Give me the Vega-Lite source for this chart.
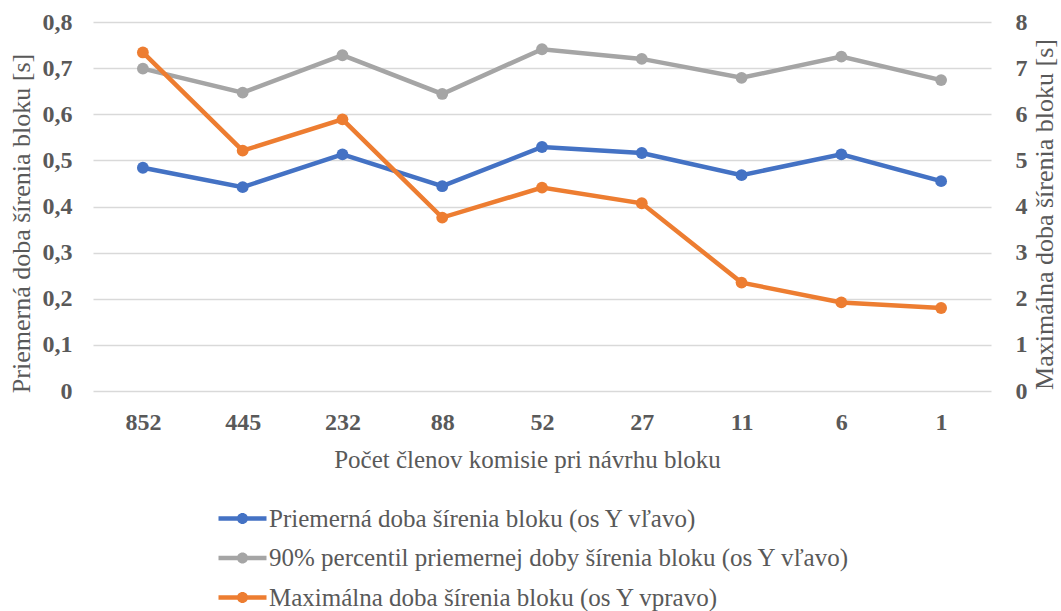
{
  "$schema": "https://vega.github.io/schema/vega-lite/v6.json",
  "width": 898,
  "height": 369,
  "autosize": {"type": "none"},
  "padding": {"left": 93, "top": 22, "right": 70, "bottom": 220},
  "background": "white",
  "config": {"view": {"stroke": null}, "font": "Liberation Serif"},
  "data": {
    "values": [
      {"k": "852", "s": "Priemerná doba šírenia bloku (os Y vľavo)", "v": 0.484},
      {"k": "445", "s": "Priemerná doba šírenia bloku (os Y vľavo)", "v": 0.442},
      {"k": "232", "s": "Priemerná doba šírenia bloku (os Y vľavo)", "v": 0.513},
      {"k": "88", "s": "Priemerná doba šírenia bloku (os Y vľavo)", "v": 0.444},
      {"k": "52", "s": "Priemerná doba šírenia bloku (os Y vľavo)", "v": 0.529},
      {"k": "27", "s": "Priemerná doba šírenia bloku (os Y vľavo)", "v": 0.516},
      {"k": "11", "s": "Priemerná doba šírenia bloku (os Y vľavo)", "v": 0.468},
      {"k": "6", "s": "Priemerná doba šírenia bloku (os Y vľavo)", "v": 0.513},
      {"k": "1", "s": "Priemerná doba šírenia bloku (os Y vľavo)", "v": 0.455},
      {"k": "852", "s": "90% percentil priemernej doby šírenia bloku (os Y vľavo)", "v": 0.699},
      {"k": "445", "s": "90% percentil priemernej doby šírenia bloku (os Y vľavo)", "v": 0.647},
      {"k": "232", "s": "90% percentil priemernej doby šírenia bloku (os Y vľavo)", "v": 0.728},
      {"k": "88", "s": "90% percentil priemernej doby šírenia bloku (os Y vľavo)", "v": 0.644},
      {"k": "52", "s": "90% percentil priemernej doby šírenia bloku (os Y vľavo)", "v": 0.741},
      {"k": "27", "s": "90% percentil priemernej doby šírenia bloku (os Y vľavo)", "v": 0.72},
      {"k": "11", "s": "90% percentil priemernej doby šírenia bloku (os Y vľavo)", "v": 0.679},
      {"k": "6", "s": "90% percentil priemernej doby šírenia bloku (os Y vľavo)", "v": 0.725},
      {"k": "1", "s": "90% percentil priemernej doby šírenia bloku (os Y vľavo)", "v": 0.674},
      {"k": "852", "s": "Maximálna doba šírenia bloku (os Y vpravo)", "v": 7.34},
      {"k": "445", "s": "Maximálna doba šírenia bloku (os Y vpravo)", "v": 5.21},
      {"k": "232", "s": "Maximálna doba šírenia bloku (os Y vpravo)", "v": 5.89},
      {"k": "88", "s": "Maximálna doba šírenia bloku (os Y vpravo)", "v": 3.76},
      {"k": "52", "s": "Maximálna doba šírenia bloku (os Y vpravo)", "v": 4.41},
      {"k": "27", "s": "Maximálna doba šírenia bloku (os Y vpravo)", "v": 4.07},
      {"k": "11", "s": "Maximálna doba šírenia bloku (os Y vpravo)", "v": 2.35},
      {"k": "6", "s": "Maximálna doba šírenia bloku (os Y vpravo)", "v": 1.92},
      {"k": "1", "s": "Maximálna doba šírenia bloku (os Y vpravo)", "v": 1.8}
    ]
  },
  "encoding": {
    "x": {
      "field": "k",
      "type": "nominal",
      "sort": ["852", "445", "232", "88", "52", "27", "11", "6", "1"],
      "scale": {"type": "point", "padding": 0.5},
      "axis": {
        "title": "Počet členov komisie pri návrhu bloku",
        "labelAngle": 0,
        "domain": false,
        "ticks": false,
        "grid": false,
        "labelFont": "Liberation Serif",
        "labelFontWeight": "bold",
        "labelFontSize": 24,
        "labelColor": "#595959",
        "labelPadding": 19,
        "titleFont": "Liberation Serif",
        "titleFontWeight": "normal",
        "titleFontSize": 25,
        "titleColor": "#595959",
        "titlePadding": 13,
        "titleX": 434
      }
    },
    "color": {
      "field": "s",
      "type": "nominal",
      "scale": {
        "domain": ["Priemerná doba šírenia bloku (os Y vľavo)", "90% percentil priemernej doby šírenia bloku (os Y vľavo)", "Maximálna doba šírenia bloku (os Y vpravo)"],
        "range": ["#4472C4", "#A5A5A5", "#ED7D31"]
      },
      "legend": {
        "orient": "none",
        "legendX": 125,
        "legendY": 484,
        "direction": "vertical",
        "title": null,
        "symbolType": "M-1,-0.19 H3 V0.19 H-1 Z M1.46,0 A0.46,0.46 0 1 1 0.54,0 A0.46,0.46 0 1 1 1.46,0 Z",
        "symbolSize": 576,
        "symbolStrokeWidth": 0,
        "labelFont": "Liberation Serif",
        "labelFontSize": 25,
        "labelColor": "#595959",
        "labelOffset": 26,
        "labelLimit": 0,
        "rowPadding": 13.5,
        "encode": {
          "symbols": {
            "update": {
              "fill": {"scale": "color", "field": "value"},
              "stroke": {"value": "transparent"},
              "opacity": {"value": 1}
            }
          }
        }
      }
    }
  },
  "layer": [
    {
      "transform": [{"filter": "datum.s != 'Maximálna doba šírenia bloku (os Y vpravo)'"}],
      "encoding": {
        "y": {
          "field": "v",
          "type": "quantitative",
          "scale": {"domain": [0, 0.8], "nice": false, "zero": true},
          "axis": {
            "orient": "left",
            "values": [0, 0.1, 0.2, 0.3, 0.4, 0.5, 0.6, 0.7, 0.8],
            "labelExpr": "datum.value == 0 ? '0' : replace(format(datum.value, '.1f'), '.', ',')",
            "domain": false,
            "ticks": false,
            "grid": true,
            "gridColor": "#D9D9D9",
            "gridWidth": 1.5,
            "labelFont": "Liberation Serif",
            "labelFontWeight": "bold",
            "labelFontSize": 24,
            "labelColor": "#595959",
            "labelPadding": 21,
            "title": "Priemerná doba šírenia bloku [s]",
            "titleFont": "Liberation Serif",
            "titleFontWeight": "normal",
            "titleFontSize": 26,
            "titleColor": "#595959",
            "titlePadding": 8,
            "titleY": 201
          }
        }
      },
      "layer": [
        {"mark": {"type": "line", "strokeWidth": 4.5}},
        {"mark": {"type": "point", "filled": true, "size": 140, "opacity": 1}}
      ]
    },
    {
      "transform": [{"filter": "datum.s == 'Maximálna doba šírenia bloku (os Y vpravo)'"}],
      "encoding": {
        "y": {
          "field": "v",
          "type": "quantitative",
          "scale": {"domain": [0, 8], "nice": false, "zero": true},
          "axis": {
            "orient": "right",
            "values": [0, 1, 2, 3, 4, 5, 6, 7, 8],
            "domain": false,
            "ticks": false,
            "grid": false,
            "labelFont": "Liberation Serif",
            "labelFontWeight": "bold",
            "labelFontSize": 24,
            "labelColor": "#595959",
            "labelPadding": 24,
            "title": "Maximálna doba šírenia bloku [s]",
            "titleFont": "Liberation Serif",
            "titleFontWeight": "normal",
            "titleFontSize": 26,
            "titleColor": "#595959",
            "titleAngle": -90,
            "titleBaseline": "top",
            "titlePadding": 4,
            "titleY": 192
          }
        }
      },
      "layer": [
        {"mark": {"type": "line", "strokeWidth": 4.5}},
        {"mark": {"type": "point", "filled": true, "size": 140, "opacity": 1}}
      ]
    }
  ],
  "resolve": {"scale": {"y": "independent"}}
}
